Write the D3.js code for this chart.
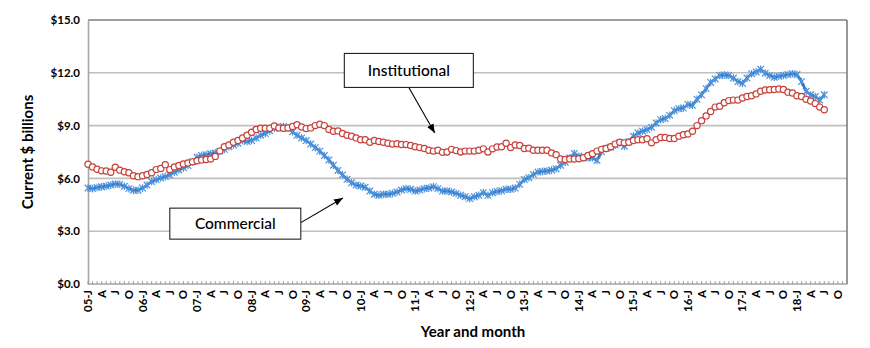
<!DOCTYPE html>
<html><head><meta charset="utf-8">
<script src="https://cdn.jsdelivr.net/npm/d3@7"></script>
<style>
body{margin:0;background:#fff;}
svg{display:block;}
text{font-family:Lato,"Open Sans",sans-serif;fill:#000;}
</style>
</head><body>
<svg id="c" width="870" height="348"></svg>
<script>
// ---- data ----
const years = ["05","06","07","08","09","10","11","12","13","14","15","16","17","18"];
const quarterLetters = ["J","A","J","O"];
const yTicks = [0,3,6,9,12,15];
const seriesNames = ["Commercial","Institutional"];
// monthly values, Jan 2005 .. Jul 2018 (current $ billions)
const commercial = [
 5.45,5.42,5.48,5.52,5.56,5.62,5.68,5.66,5.55,5.42,5.32,5.33,
 5.45,5.62,5.82,5.92,6.02,6.10,6.20,6.35,6.48,6.60,6.73,6.95,
 7.20,7.30,7.35,7.40,7.45,7.55,7.65,7.80,7.90,8.00,8.15,8.10,
 8.15,8.30,8.45,8.55,8.70,8.85,8.90,8.95,8.85,8.65,8.45,8.30,
 8.15,7.95,7.75,7.55,7.30,7.05,6.75,6.45,6.20,5.95,5.75,5.62,
 5.57,5.50,5.28,5.10,5.04,5.10,5.10,5.15,5.23,5.34,5.42,5.38,
 5.28,5.34,5.42,5.45,5.53,5.42,5.28,5.28,5.23,5.15,5.04,4.96,
 4.85,4.96,5.04,5.19,5.04,5.19,5.26,5.30,5.38,5.38,5.45,5.66,
 5.94,6.04,6.23,6.36,6.40,6.42,6.47,6.55,6.74,6.92,7.17,7.42,
 7.26,7.17,7.17,7.17,7.02,7.51,7.70,7.77,7.89,8.02,7.83,8.08,
 8.40,8.58,8.68,8.77,8.90,9.15,9.34,9.40,9.58,9.85,9.96,10.00,
 10.20,10.15,10.50,10.75,11.10,11.45,11.65,11.85,11.88,11.85,11.70,11.50,
 11.40,11.70,11.95,12.05,12.20,11.98,11.85,11.75,11.80,11.85,11.90,11.95,
 11.90,11.50,10.95,10.75,10.65,10.45,10.75
];
const institutional = [
 6.80,6.65,6.52,6.43,6.42,6.35,6.63,6.47,6.38,6.32,6.15,6.10,
 6.15,6.22,6.32,6.50,6.56,6.78,6.50,6.65,6.73,6.82,6.88,6.94,
 7.00,7.05,7.07,7.10,7.25,7.55,7.80,7.90,8.05,8.15,8.30,8.45,
 8.62,8.78,8.85,8.85,8.85,8.98,8.87,8.85,8.87,8.95,9.05,8.92,
 8.83,8.87,9.00,9.08,9.00,8.78,8.68,8.70,8.55,8.45,8.40,8.30,
 8.20,8.20,8.05,8.15,8.10,8.05,8.00,7.95,7.97,7.93,7.92,7.87,
 7.80,7.75,7.70,7.60,7.55,7.60,7.48,7.50,7.65,7.58,7.50,7.55,
 7.55,7.55,7.60,7.68,7.50,7.68,7.78,7.80,8.00,7.75,7.90,7.87,
 7.70,7.72,7.60,7.60,7.60,7.60,7.45,7.35,7.10,7.08,7.10,7.10,
 7.12,7.17,7.30,7.40,7.55,7.65,7.70,7.80,7.95,8.05,8.02,8.05,
 8.15,8.20,8.20,8.25,8.02,8.20,8.32,8.33,8.27,8.27,8.40,8.48,
 8.52,8.68,9.00,9.28,9.55,9.80,10.05,10.10,10.30,10.42,10.45,10.45,
 10.57,10.65,10.70,10.80,10.95,11.02,11.04,11.05,11.08,11.05,10.90,10.85,
 10.70,10.65,10.50,10.40,10.25,10.05,9.90
];
// annotations: label box anchored in data coords, arrow tip in data coords
const annotations = [
 {label:"Institutional", boxMonth:56.4, boxValue:13.1, w:129, h:34, tipMonth:76.3, tipValue:8.58, from:"bottom", fromDx:0},
 {label:"Commercial", boxMonth:18.0, boxValue:4.31, w:131, h:31, tipMonth:56.1, tipValue:4.89, from:"right", fromDy:-1}
];

// ---- chart ----
const plot={l:88,r:847,t:20,b:284};
const months = d3.range(years.length*12);
const svg=d3.select("#c");
const x=d3.scalePoint().domain(months).range([plot.l,plot.r]);
const y=d3.scaleLinear().domain([0,15]).range([plot.b,plot.t]);

// gridlines
svg.append("g").selectAll("line").data(yTicks.filter(v=>v>0&&v<15)).join("line")
  .attr("x1",plot.l).attr("x2",plot.r).attr("y1",d=>y(d)).attr("y2",d=>y(d))
  .attr("stroke","#bfbfbf").attr("stroke-width",1.6);
// frame top/right
svg.append("line").attr("x1",plot.l).attr("x2",plot.r).attr("y1",y(15)).attr("y2",y(15))
  .attr("stroke","#7f7f7f").attr("stroke-width",1.6);
svg.append("line").attr("x1",plot.r).attr("x2",plot.r).attr("y1",y(15)).attr("y2",y(0))
  .attr("stroke","#7f7f7f").attr("stroke-width",1.6);

// y axis
const yAxis=d3.axisLeft(y).tickValues(yTicks).tickSize(0).tickPadding(8)
  .tickFormat(d=>"$"+d3.format(".1f")(d));
const gy=svg.append("g").attr("transform",`translate(${plot.l},0)`).call(yAxis);
gy.select(".domain").attr("stroke","#a6a6a6").attr("stroke-width",1.6);
gy.selectAll("text").attr("font-size",11.5).attr("font-weight",700).attr("fill","#000")
  .attr("font-family","Lato,sans-serif");

// x axis: monthly minor ticks
const gx=svg.append("g").attr("transform",`translate(0,${plot.b})`);
gx.append("line").attr("x1",plot.l).attr("x2",plot.r).attr("stroke","#a6a6a6").attr("stroke-width",1.6);
gx.selectAll("line.t").data(months).join("line").attr("class","t")
  .attr("x1",d=>x(d)).attr("x2",d=>x(d)).attr("y1",-3).attr("y2",0.5)
  .attr("stroke","#9a9a9a").attr("stroke-width",0.9);
const labelled=months.filter(m=>m%3===0);
gx.selectAll("text").data(labelled).join("text")
  .attr("transform",d=>`translate(${x(d)+4},6) rotate(-90)`)
  .attr("text-anchor","end").attr("font-size",11.5).attr("font-weight",700)
  .text(d=>{const q=(d%12)/3; return q===0? years[Math.floor(d/12)]+"-J" : quarterLetters[q];});

// titles
svg.append("text").attr("transform",`translate(33,${(plot.t+plot.b)/2}) rotate(-90)`)
  .attr("text-anchor","middle").attr("font-size",15).attr("font-weight",700)
  .text("Current $ billions");
svg.append("text").attr("x",473).attr("y",337).attr("text-anchor","middle")
  .attr("font-size",15).attr("font-weight",700).text("Year and month");

// commercial line + star markers
const blue="#2f74c2", blueM="#4d92dc", red="#c8403a";
svg.append("path").datum(commercial)
  .attr("d",d3.line().x((d,i)=>x(i)).y(d=>y(d)))
  .attr("fill","none").attr("stroke",blue).attr("stroke-width",2.6).attr("stroke-linejoin","round");
svg.append("g").selectAll("path").data(commercial).join("path")
  .attr("transform",(d,i)=>`translate(${x(i)},${y(d)})`)
  .attr("d","M-3.3,-3.3L3.3,3.3M-3.3,3.3L3.3,-3.3M0,-3.8L0,3.8")
  .attr("stroke",blueM).attr("stroke-width",1.2).attr("fill","none");

// institutional circles
svg.append("g").selectAll("circle").data(institutional).join("circle")
  .attr("cx",(d,i)=>x(i)).attr("cy",d=>y(d)).attr("r",3.1)
  .attr("fill","#fff").attr("stroke",red).attr("stroke-width",1.2);

// annotations
const defs=svg.append("defs");
defs.append("marker").attr("id","ah").attr("viewBox","0 0 10 10").attr("refX",10).attr("refY",5)
  .attr("markerWidth",9).attr("markerHeight",9).attr("orient","auto-start-reverse")
  .attr("markerUnits","userSpaceOnUse")
  .append("path").attr("d","M0,1L10,5L0,9Z").attr("fill","#000");
annotations.forEach(a=>{
  const bx=x(0)+(x(1)-x(0))*a.boxMonth, by=y(a.boxValue);
  const tx=x(0)+(x(1)-x(0))*a.tipMonth, ty=y(a.tipValue);
  const g=svg.append("g");
  let sx,sy;
  if(a.from==="bottom"){sx=bx+a.w/2+(a.fromDx||0); sy=by+a.h;}
  else {sx=bx+a.w; sy=by+a.h/2+(a.fromDy||0);}
  g.append("line").attr("x1",sx).attr("y1",sy).attr("x2",tx).attr("y2",ty)
    .attr("stroke","#000").attr("stroke-width",1.1).attr("marker-end","url(#ah)");
  g.append("rect").attr("x",bx).attr("y",by).attr("width",a.w).attr("height",a.h)
    .attr("fill","#fff").attr("stroke","#222").attr("stroke-width",1.1);
  g.append("text").attr("x",bx+a.w/2).attr("y",by+a.h/2).attr("dy","0.36em")
    .attr("text-anchor","middle").attr("font-size",15.5).attr("font-weight",500).text(a.label);
});
</script>
</body></html>
